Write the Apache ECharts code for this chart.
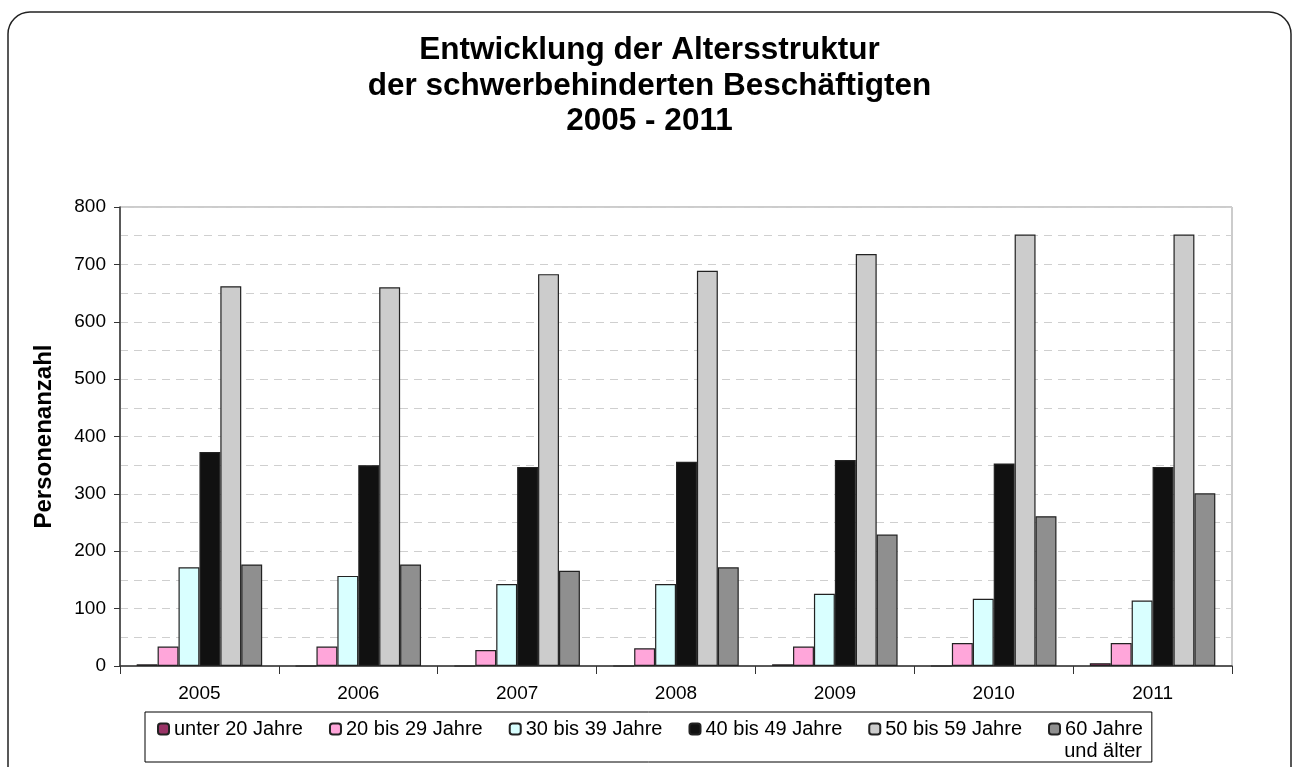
<!DOCTYPE html>
<html>
<head>
<meta charset="utf-8">
<script src="https://cdn.jsdelivr.net/npm/echarts@6/dist/echarts.min.js"></script>
<style>
  html, body { margin: 0; padding: 0; background: #fff; }
  #chart { width: 1299px; height: 767px; }
</style>
</head>
<body>
<div id="chart"></div>
<script>
const years = ['2005', '2006', '2007', '2008', '2009', '2010', '2011'];
const seriesNames = ['unter 20 Jahre', '20 bis 29 Jahre', '30 bis 39 Jahre', '40 bis 49 Jahre', '50 bis 59 Jahre', '60 Jahre und älter'];
const unter20 = [3, 0, 0, 0, 3, 0, 5];
const j20bis29 = [34, 34, 28, 31, 34, 40, 40];
const j30bis39 = [172, 157, 143, 143, 126, 117, 114];
const j40bis49 = [373, 350, 347, 356, 359, 353, 347];
const j50bis59 = [662, 660, 683, 689, 718, 752, 752];
const ab60 = [177, 177, 166, 172, 229, 261, 301];
const colors = ['#993366', '#ffa6da', '#d9ffff', '#111111', '#cccccc', '#8f8f8f'];

const values = [unter20, j20bis29, j30bis39, j40bis49, j50bis59, ab60];
const font = 'Liberation Sans, Arial, sans-serif';

const chart = echarts.init(document.getElementById('chart'));
chart.setOption({
  animation: false,
  textStyle: { fontFamily: font },
  title: {
    text: 'Entwicklung der Altersstruktur\nder schwerbehinderten Beschäftigten\n2005 - 2011',
    left: 'center',
    top: 28,
    textStyle: { fontSize: 31.5, fontWeight: 'bold', color: '#000', lineHeight: 35.5, fontFamily: font }
  },
  graphic: [{
    type: 'rect',
    shape: { x: 8, y: 12, width: 1283, height: 800, r: 22 },
    style: { fill: 'none', stroke: '#222', lineWidth: 1.5 },
    z: -1
  }, {
    // second line of the last legend entry
    type: 'text',
    x: 1142, y: 751,
    style: { text: 'und älter', align: 'right', verticalAlign: 'middle', fontSize: 20, fill: '#000', fontFamily: font }
  }],
  legend: {
    left: 145,
    top: 712,
    itemWidth: 11,
    itemHeight: 11,
    itemGap: 26,
    padding: [6, 9, 22, 12],
    borderColor: '#000',
    borderWidth: 1,
    formatter: name => name.replace(' und älter', ''),
    textStyle: { fontSize: 20, color: '#000', lineHeight: 22, fontFamily: font },
    data: seriesNames
  },
  grid: {
    left: 120, right: 67, top: 207, bottom: 101,
    show: true, borderColor: '#999', borderWidth: 1
  },
  xAxis: {
    type: 'category',
    data: years,
    boundaryGap: true,
    axisLine: { lineStyle: { color: '#333', width: 1.5 } },
    axisTick: { show: true, length: 8, lineStyle: { color: '#333' } },
    axisLabel: { fontSize: 19, color: '#000', margin: 18 }
  },
  yAxis: {
    type: 'value',
    min: 0, max: 800, interval: 100,
    name: 'Personenanzahl',
    nameLocation: 'middle',
    nameGap: 64,
    nameTextStyle: { fontSize: 24, fontWeight: 'bold', color: '#000' },
    axisLine: { show: true, lineStyle: { color: '#333', width: 1.5 } },
    axisTick: { show: true, length: 6, lineStyle: { color: '#333' } },
    axisLabel: { fontSize: 19, color: '#000', margin: 14 },
    splitLine: { lineStyle: { color: '#cfcfcf', type: [8, 6] } },
    minorTick: { show: false, splitNumber: 2 },
    minorSplitLine: { show: true, lineStyle: { color: '#cfcfcf', type: [8, 6] } }
  },
  series: seriesNames.map((name, i) => ({
    name: name,
    type: 'bar',
    data: values[i],
    barGap: '0%',
    barCategoryGap: '21%',
    itemStyle: { color: colors[i], borderColor: '#222', borderWidth: 1.2 }
  }))
});
</script>
</body>
</html>
